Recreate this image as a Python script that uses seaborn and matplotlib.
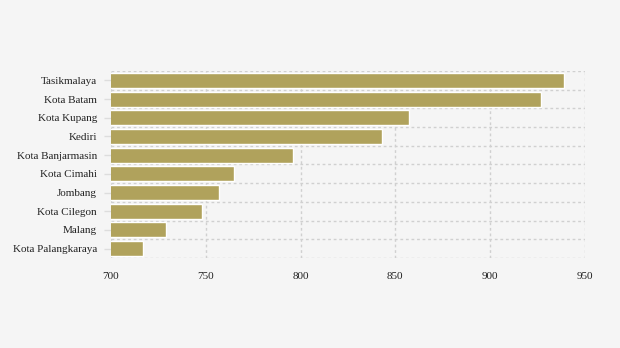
import matplotlib
matplotlib.use("Agg")
import matplotlib.pyplot as plt
import seaborn as sns
import pandas as pd
from matplotlib.ticker import FixedLocator

cities = ["Tasikmalaya", "Kota Batam", "Kota Kupang", "Kediri", "Kota Banjarmasin",
          "Kota Cimahi", "Jombang", "Kota Cilegon", "Malang", "Kota Palangkaraya"]
values = [939, 927, 857, 843, 796, 765, 757, 748, 729, 717]
xticks = [700, 750, 800, 850, 900, 950]

df = pd.DataFrame({"city": cities, "value": values})

sns.set_theme(style="white")
plt.rcParams["font.family"] = ["Liberation Serif", "DejaVu Serif"]

fig = plt.figure(figsize=(6.2, 3.48), dpi=100, facecolor="#f5f5f5")
ax = fig.add_axes([0.179, 0.2586, 0.7645, 0.5374])
ax.set_facecolor("#f5f5f5")

sns.barplot(data=df, y="city", x="value", orient="h", color="#b0a25c",
            saturation=1, width=0.8, ax=ax, zorder=2)

ax.set_xlim(700, 950)
ax.set_ylim(len(cities) - 0.5, -0.5)
ax.set_xticks(xticks)
ax.set_xticklabels([str(t) for t in xticks])
ax.yaxis.set_minor_locator(FixedLocator([i - 0.5 for i in range(len(cities) + 1)]))
ax.grid(True, axis="x", which="major", color="#d0d0d0", linestyle=(0, (2, 2)), linewidth=1, zorder=0)
ax.grid(True, axis="y", which="minor", color="#d0d0d0", linestyle=(0, (2, 2)), linewidth=1, zorder=0)
ax.grid(False, axis="y", which="major")
ax.set_axisbelow(True)
for s in ax.spines.values():
    s.set_visible(False)
ax.set_xlabel("")
ax.set_ylabel("")
ax.tick_params(axis="x", length=0, pad=10, labelsize=8, labelcolor="#222222")
ax.tick_params(axis="y", which="major", length=5, width=1, color="#dddddd", pad=5,
               labelsize=8, labelcolor="#222222", left=True)
ax.tick_params(axis="y", which="minor", length=0)

fig.savefig("out.png", dpi=100, facecolor="#f5f5f5")
